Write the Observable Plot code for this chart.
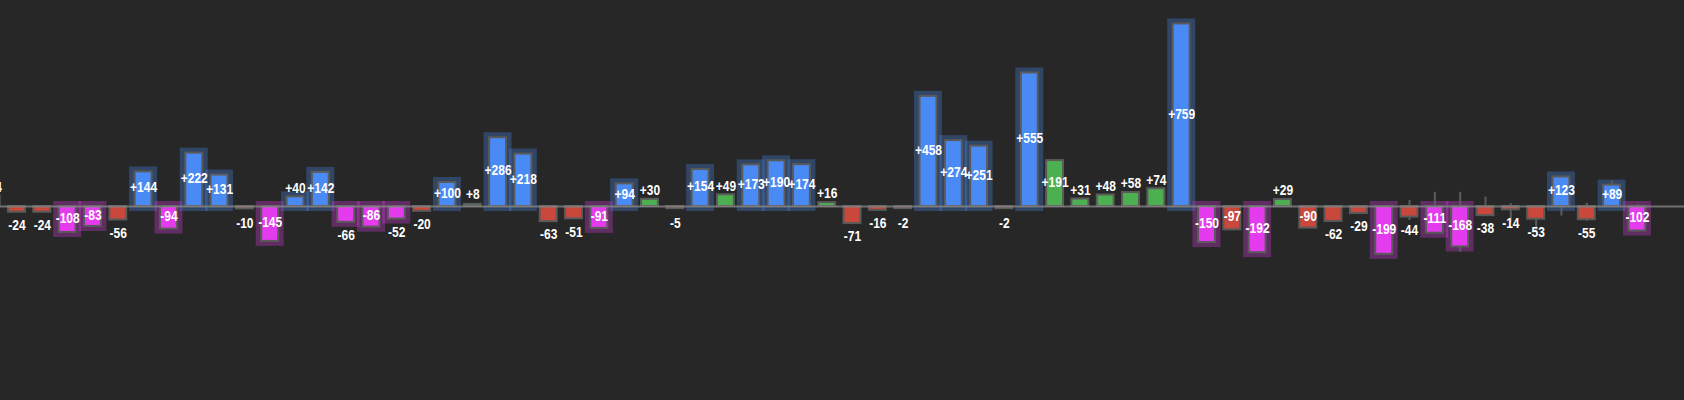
<!DOCTYPE html>
<html>
<head>
<meta charset="utf-8">
<script src="https://cdn.jsdelivr.net/npm/d3@7"></script>
<script src="https://cdn.jsdelivr.net/npm/@observablehq/plot@0.6"></script>
<style>
  html, body { margin: 0; padding: 0; background: #272727; }
  #chart { width: 1684px; height: 400px; overflow: hidden; }
</style>
</head>
<body>
<div id="chart"></div>
<script>
// Bar index (first one is partly off the left edge)
const firstIndex = -1;
// Change values, left to right
const values = [44, -24, -24, -108, -83, -56, 144, -94, 222, 131, -10, -145, 40, 142, -66, -86, -52, -20, 100, 8, 286, 218, -63, -51, -91, 94, 30, -5, 154, 49, 173, 190, 174, 16, -71, -16, -2, 458, 274, 251, -2, 555, 191, 31, 48, 58, 74, 759, -150, -97, -192, 29, -90, -62, -29, -199, -44, -111, -168, -38, -14, -53, 123, -55, 89, -102];
// Highlighted bars (1 = highlighted)
const highlight = [0, 0, 0, 1, 1, 0, 1, 1, 1, 1, 0, 1, 1, 1, 1, 1, 1, 0, 1, 0, 1, 1, 0, 0, 1, 1, 0, 0, 1, 0, 1, 1, 1, 0, 0, 0, 0, 1, 1, 1, 0, 1, 0, 0, 0, 0, 0, 1, 1, 0, 1, 0, 0, 0, 0, 1, 0, 1, 1, 0, 0, 0, 1, 0, 1, 1];
// Wick ranges for the last bars
const wickIndex = [54, 55, 56, 57, 58, 59, 60, 61, 62, 63, 64];
const wickHigh  = [0, 25, 59, 59, 39, 12, 0, 123, 14, 105, 8];
const wickLow   = [-202, -58, -113, -190, -38, -69, -100, -40, -61, -3, -107];

const colors = {
  upHi: "#4a8af4",
  up: "#4caf50",
  downHi: "#e53bef",
  down: "#c9473b"
};

const data = values.map((v, k) => {
  const hi = highlight[k] === 1;
  const color = v >= 0 ? (hi ? colors.upHi : colors.up) : (hi ? colors.downHi : colors.down);
  const vDraw = Math.sign(v) * Math.max(Math.abs(v), 9);
  return {
    i: firstIndex + k,
    v,
    vDraw,
    hi,
    color,
    label: (v > 0 ? "+" : "") + v,
    anchor: Math.sign(v) * Math.max(Math.abs(v), 14)
  };
});
const wicks = wickIndex.map((i, k) => ({i, high: wickHigh[k], low: wickLow[k]}));

const half = 0.335;
const inside = data.filter(d => Math.abs(d.v) >= 80);
const outPos = data.filter(d => Math.abs(d.v) < 80 && d.v > 0);
const outNeg = data.filter(d => Math.abs(d.v) < 80 && d.v < 0);
const font = "'Liberation Sans', Arial, sans-serif";
const textOpts = {x: "i", text: "label", fill: "#ffffff", fontSize: 15, fontWeight: "bold", fontFamily: font, className: "lbl"};

const chart = Plot.plot({
  width: 1684,
  height: 400,
  margin: 0,
  style: {background: "#272727", overflow: "hidden"},
  x: {type: "linear", domain: [-0.652, 65.86], range: [0, 1684], axis: null},
  y: {type: "linear", domain: [-806.6, 856.5], range: [400, 0], axis: null},
  marks: [
    // halos
    Plot.rect(data.filter(d => d.hi), {
      x1: d => d.i - half, x2: d => d.i + half, y1: 0, y2: d => d.vDraw,
      fill: d => d.color, fillOpacity: 0.3,
      insetLeft: -5.5, insetRight: -5.5, insetTop: -5, insetBottom: -5
    }),
    // wicks
    Plot.ruleX(wicks, {x: "i", y1: "low", y2: "high", stroke: "#5c5c5c", strokeWidth: 2}),
    // bars
    Plot.rect(data, {
      x1: d => d.i - half, x2: d => d.i + half, y1: 0, y2: d => d.vDraw,
      fill: d => d.color, stroke: "#5a5a5a", strokeWidth: 2
    }),
    // baseline
    Plot.ruleY([0], {stroke: "#8a8a8a", strokeWidth: 2, strokeOpacity: 0.75}),
    // labels
    Plot.text(inside, {...textOpts, y: d => d.v / 2, dy: -1.5}),
    Plot.text(outPos, {...textOpts, y: "anchor", dy: -9}),
    Plot.text(outNeg, {...textOpts, y: "anchor", dy: 13})
  ]
});
// condense label glyphs horizontally around each label's own anchor
chart.querySelectorAll(".lbl text").forEach(el => {
  const t = el.getAttribute("transform");
  if (t && t.includes("translate")) el.setAttribute("transform", t + " scale(0.8,1)");
});
document.getElementById("chart").appendChild(chart);
</script>
</body>
</html>
